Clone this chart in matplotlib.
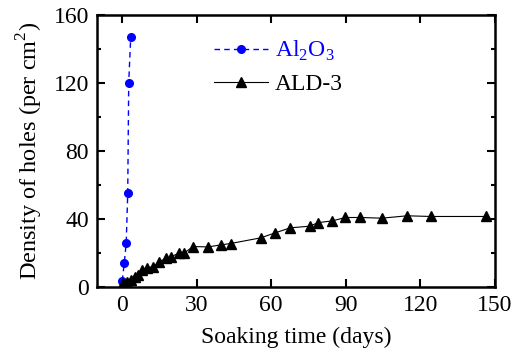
import numpy as np
import matplotlib.pyplot as plt
from matplotlib.ticker import MultipleLocator

plt.rcParams['font.family'] = ['Liberation Serif', 'DejaVu Serif']
plt.rcParams['mathtext.fontset'] = 'custom'
plt.rcParams['mathtext.rm'] = 'Liberation Serif'

# Al2O3 series
al2o3_days = [0.1, 0.9, 1.7, 2.3, 2.7, 3.5]
al2o3_holes = [3.5, 14, 26, 55, 120, 147]

# ALD-3 series
ald3_days = [0.5, 1.9, 3.5, 5.2, 6.5, 8.0, 9.9, 12.6, 15.0, 17.7, 19.6, 22.8,
             24.9, 28.6, 34.7, 39.8, 43.7, 55.7, 61.7, 67.6, 75.5, 78.9, 84.6,
             89.8, 95.9, 104.5, 114.6, 124.4, 146.5]
ald3_holes = [2.2, 3.1, 4.1, 5.5, 7.0, 10.0, 11.2, 11.8, 14.7, 16.9, 17.6, 19.8,
              19.8, 23.7, 23.5, 24.7, 25.5, 28.8, 31.8, 34.7, 35.7, 37.8, 38.8,
              40.8, 40.8, 40.4, 41.8, 41.4, 41.4]

fig = plt.figure(figsize=(5.14, 3.55), dpi=100)
ax = fig.add_axes([0.189, 0.192, 0.774, 0.766])

ax.plot(al2o3_days, al2o3_holes, color='#0000ff', ls='--', lw=1, dashes=(4, 3),
        marker='o', ms=5.5, label=r'Al$_2$O$_3$')
ax.plot(ald3_days, ald3_holes, color='black', ls='-', lw=0.8,
        marker='^', ms=6.5, label='ALD-3')

ax.set_xlim(-10, 150)
ax.set_ylim(0, 160)
ax.xaxis.set_major_locator(MultipleLocator(30))
ax.yaxis.set_major_locator(MultipleLocator(40))
ax.yaxis.set_minor_locator(MultipleLocator(20))
ax.tick_params(which='both', direction='in', top=True, right=True,
               labelsize=17, width=1.5, pad=6)
ax.tick_params(which='major', length=6)
ax.tick_params(which='minor', length=3)
ax.tick_params(axis='x', which='minor', bottom=False, top=False)
for s in ax.spines.values():
    s.set_linewidth(1.8)

ax.set_xlabel('Soaking time (days)', fontsize=17, labelpad=8)
ax.set_ylabel('Density of holes (per cm$^2$)', fontsize=17.5, labelpad=6)

leg = ax.legend(loc='upper left', bbox_to_anchor=(0.24, 0.99), frameon=False,
                fontsize=17, handlelength=2.3, handletextpad=0.3, labelspacing=0.45)
leg.get_texts()[0].set_color('#0000ff')

fig.savefig('out.png', dpi=100)
